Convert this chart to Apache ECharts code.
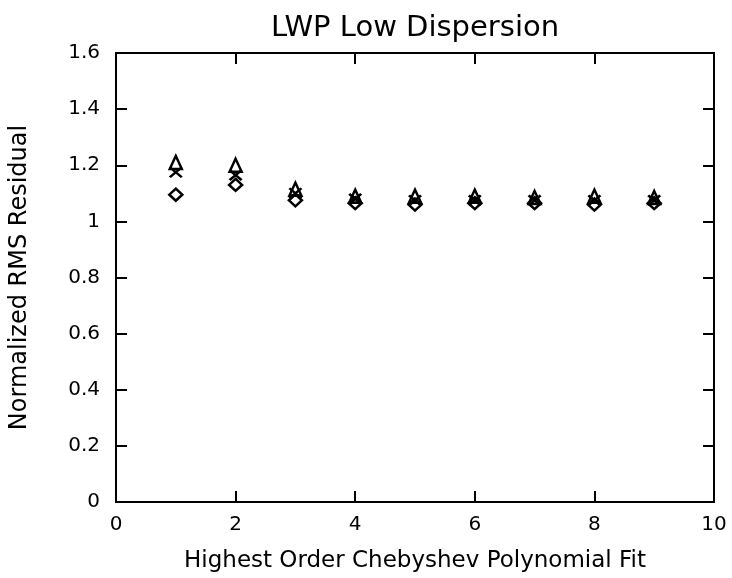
<!DOCTYPE html>
<html><head><meta charset="utf-8">
<script src="https://cdn.jsdelivr.net/npm/echarts@6/dist/echarts.min.js"></script>
<style>html,body{margin:0;padding:0;background:#fff}#c{width:732px;height:578px}</style>
</head><body><div id="c"></div>
<script>
const orders = [1,2,3,4,5,6,7,8,9];
const triangleVals = [1.21,1.20,1.115,1.09,1.09,1.09,1.085,1.09,1.085];
const crossVals    = [1.175,1.165,1.10,1.08,1.075,1.075,1.075,1.075,1.075];
const diamondVals  = [1.095,1.13,1.075,1.065,1.06,1.065,1.065,1.06,1.065];
const xTicks = [0,2,4,6,8,10];
const yTicks = [0,0.2,0.4,0.6,0.8,1,1.2,1.4,1.6];

const font = 'DejaVu Sans';
const pair = v => orders.map((o,i)=>[o,v[i]]);
const mk = (name, data, symbol, size) => ({
  name, type:'scatter', data:pair(data), symbol, symbolSize:size,
  itemStyle:{color:'rgba(0,0,0,0)', borderColor:'#000', borderWidth:2.5, opacity:1},
  xAxisIndex:0, yAxisIndex:0, z:5
});
const ax = {onZero:false, lineStyle:{color:'#000', width:2}};
const tk = {inside:true, length:11, lineStyle:{color:'#000', width:2}};
const chart = echarts.init(document.getElementById('c'));
chart.setOption({
  animation:false,
  backgroundColor:'#fff',
  title:{text:'LWP Low Dispersion', left:410, textAlign:'center', top:9,
    textStyle:{fontFamily:font, fontWeight:'normal', fontSize:29, color:'#000'}},
  grid:{left:116, right:18, top:53, bottom:70},
  xAxis:[
    {type:'value', min:0, max:10, interval:2, position:'bottom',
     axisLine:ax, axisTick:tk, splitLine:{show:false},
     axisLabel:{fontFamily:font, fontSize:20, color:'#000', margin:13},
     name:'Highest Order Chebyshev Polynomial Fit', nameLocation:'middle', nameGap:48,
     nameTextStyle:{fontFamily:font, fontSize:23, color:'#000', verticalAlign:'top'}},
    {type:'value', min:0, max:10, interval:2, position:'top',
     axisLine:ax, axisTick:tk, splitLine:{show:false}, axisLabel:{show:false}}
  ],
  yAxis:[
    {type:'value', min:0, max:1.6, interval:0.2, position:'left',
     axisLine:ax, axisTick:tk, splitLine:{show:false},
     axisLabel:{fontFamily:font, fontSize:20, color:'#000', margin:16,
       formatter: v => String(Math.round(v*10)/10)},
     name:'Normalized RMS Residual', nameLocation:'middle', nameGap:84, nameRotate:90,
     nameTextStyle:{fontFamily:font, fontSize:24, color:'#000'}},
    {type:'value', min:0, max:1.6, interval:0.2, position:'right',
     axisLine:ax, axisTick:tk, splitLine:{show:false}, axisLabel:{show:false}}
  ],
  series:[
    mk('tri', triangleVals, 'triangle', [12,13]),
    mk('cross', crossVals, 'path://M0,0L10,9M10,0L0,9', [12,10]),
    mk('dia', diamondVals, 'diamond', [13,12])
  ]
});
</script></body></html>
